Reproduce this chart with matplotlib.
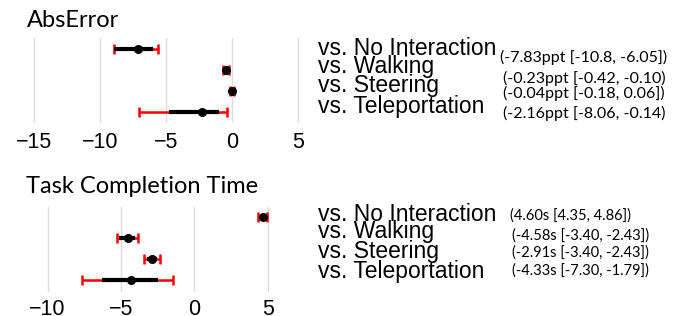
import matplotlib
matplotlib.use("Agg")
import matplotlib.pyplot as plt

categories = ["vs. No Interaction", "vs. Walking", "vs. Steering", "vs. Teleportation"]

# AbsError panel
abs_point = [-7.1, -0.45, 0.05, -2.28]
abs_inner_lo = [-8.9, -0.5, 0.0, -4.75]
abs_inner_hi = [-5.99, -0.4, 0.1, -0.94]
abs_outer_lo = [-8.95, -0.7, -0.1, -7.0]
abs_outer_hi = [-5.62, -0.2, 0.2, -0.35]
abs_text = ["(-7.83ppt [-10.8, -6.05])", "(-0.23ppt [-0.42, -0.10)",
            "(-0.04ppt [-0.18, 0.06])", "(-2.16ppt [-8.06, -0.14)"]
abs_ticks = [-15, -10, -5, 0, 5]

# Task completion time panel
time_point = [4.66, -4.54, -2.86, -4.31]
time_inner_lo = [4.5, -5.11, -3.25, -6.31]
time_inner_hi = [4.8, -4.04, -2.56, -2.49]
time_outer_lo = [4.37, -5.25, -3.41, -7.68]
time_outer_hi = [4.94, -3.86, -2.34, -1.43]
time_text = ["(4.60s [4.35, 4.86])", "(-4.58s [-3.40, -2.43])",
             "(-2.91s [-3.40, -2.43])", "(-4.33s [-7.30, -1.79])"]
time_ticks = [-10, -5, 0, 5]

W, H = 686, 316
fig = plt.figure(figsize=(W / 100, H / 100), dpi=100)


def px_axes(x0, y0, x1, y1):
    return fig.add_axes([x0 / W, 1 - y1 / H, (x1 - x0) / W, (y1 - y0) / H])


def ftext(x, y, s, **kw):
    fig.text(x / W, 1 - y / H, s, **kw)


def draw_panel(ax, point, ilo, ihi, olo, ohi, ticks, xlim, ylim, pad):
    rows = list(range(len(point)))
    lo_err = [p - l for p, l in zip(point, olo)]
    hi_err = [h - p for p, h in zip(point, ohi)]
    ax.errorbar(point, rows, xerr=[lo_err, hi_err], fmt="none", ecolor="red",
                elinewidth=1.8, capsize=3.4, capthick=1.8, zorder=2)
    ax.hlines(rows, ilo, ihi, color="black", lw=3, zorder=3)
    ax.plot(point, rows, "o", color="black", ms=5.5, zorder=4)
    ax.set_xlim(*xlim)
    ax.set_ylim(*ylim)
    ax.set_xticks(ticks)
    ax.set_yticks([])
    ax.grid(axis="x", color="#dcdcdc", lw=1)
    ax.set_axisbelow(True)
    for s in ax.spines.values():
        s.set_visible(False)
    ax.tick_params(axis="x", length=0, pad=pad, labelsize=15.5)
    for lab in ax.get_xticklabels():
        lab.set_fontfamily("Liberation Sans")


ax1 = px_axes(20, 38, 300, 123)
draw_panel(ax1, abs_point, abs_inner_lo, abs_inner_hi, abs_outer_lo, abs_outer_hi,
           abs_ticks, (-16.04, 5.17), (3.53, -0.54), 6.2)

ax2 = px_axes(20, 206.7, 300, 291.7)
draw_panel(ax2, time_point, time_inner_lo, time_inner_hi, time_outer_lo, time_outer_hi,
           time_ticks, (-11.88, 7.2), (3.56, -0.51), 5.2)

# titles
ftext(27, 27, "AbsError", fontsize=17, family="Lato", va="baseline")
ftext(26, 193, "Task Completion Time", fontsize=17, family="Lato", va="baseline")

# category labels
for lab, yb in zip(categories, [55, 72.7, 92, 113]):
    ftext(318, yb, lab, fontsize=16.5, family="Liberation Sans", va="baseline")
for lab, yb in zip(categories, [220.7, 238.3, 258.3, 278.3]):
    ftext(318, yb, lab, fontsize=16.5, family="Liberation Sans", va="baseline")

# CI annotations
for t, yc, xs in zip(abs_text, [57.3, 78.3, 93.3, 113.3], [500, 502.7, 502.7, 502.7]):
    ftext(xs, yc, t, fontsize=11.5, family="Lato", va="center")
for t, yc, xs in zip(time_text, [215.5, 235.5, 252.5, 270.5], [510, 511.7, 511.7, 511.7]):
    ftext(xs, yc, t, fontsize=10.5, family="Lato", va="center")

fig.savefig("out.png", dpi=100)
